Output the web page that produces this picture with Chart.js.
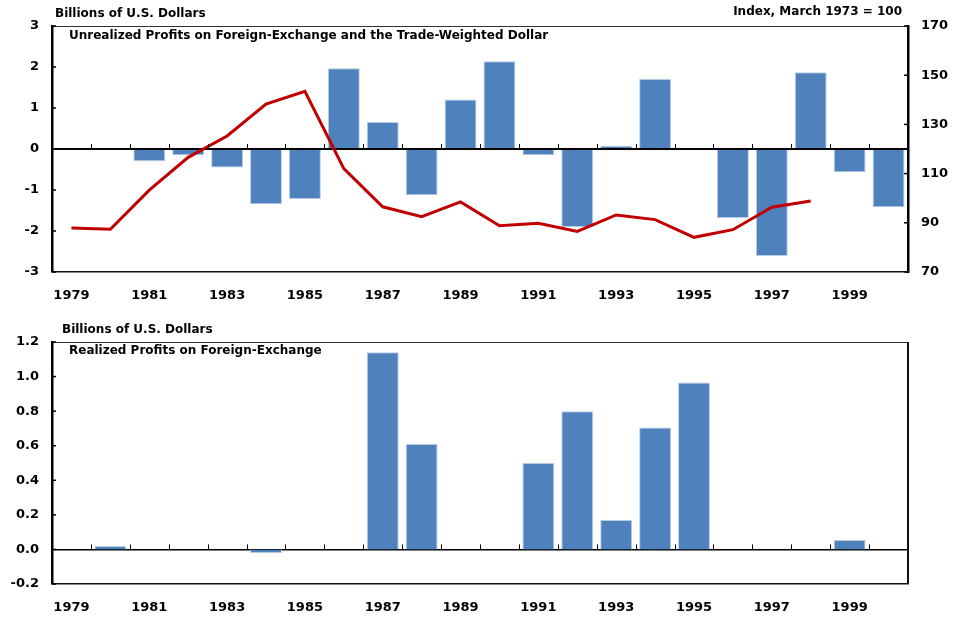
<!DOCTYPE html>
<html>
<head>
<meta charset="utf-8">
<script src="https://cdn.jsdelivr.net/npm/chart.js@4.4.0/dist/chart.umd.min.js"></script>
<style>
  html, body { margin: 0; padding: 0; background: #fff; }
  #wrap { position: relative; width: 955px; height: 618px; }
  #topBox { position: absolute; left: 0; top: 0; width: 955px; height: 310px; }
  #botBox { position: absolute; left: 0; top: 310px; width: 955px; height: 308px; }
</style>
</head>
<body>
<div id="wrap">
  <div id="topBox"><canvas id="topChart" width="955" height="310"></canvas></div>
  <div id="botBox"><canvas id="botChart" width="955" height="308"></canvas></div>
</div>
<script>
// years on the category axis
const years = ['1979', '1980', '1981', '1982', '1983', '1984', '1985', '1986', '1987', '1988', '1989',
               '1990', '1991', '1992', '1993', '1994', '1995', '1996', '1997', '1998', '1999', '2000'];

// unrealized profits, billions of U.S. dollars
const unrealized = [0, 0, -0.30, -0.15, -0.45, -1.35, -1.22, 1.97, 0.66, -1.13, 1.21,
                    2.14, -0.15, -1.90, 0.08, 1.71, 0.03, -1.68, -2.61, 1.87, -0.57, -1.42];

// trade-weighted dollar, index March 1973 = 100
const dollarIndex = [87.9, 87.4, 103.3, 116.6, 125.3, 138.3, 143.4, 112.0, 96.5, 92.5, 98.5,
                     88.8, 89.8, 86.5, 93.2, 91.3, 84.1, 87.2, 96.3, 98.9, null, null];

// realized profits, billions of U.S. dollars
const realized = [0, 0.02, 0, 0, 0, -0.02, 0, 0, 1.14, 0.61, 0,
                  0, 0.50, 0.80, 0.17, 0.705, 0.965, 0, 0, 0, 0.055, 0];

const FONT = 'DejaVu Sans';
const barBlue = '#4f81bd';
const lineRed = '#c00000';

const isZero = v => Math.abs(v) < 1e-9;

// frame, tick marks and captions drawn on top of the chart
const framePlugin = {
    id: 'frame',
    afterDraw(chart, args, opts) {
        const ctx = chart.ctx;
        const area = chart.chartArea;
        const x = chart.scales.x;
        const y = chart.scales.y;
        const zero = y.getPixelForValue(0);
        ctx.save();

        // top border of the plot box
        ctx.strokeStyle = '#333';
        ctx.lineWidth = 1;
        ctx.beginPath();
        ctx.moveTo(area.left, area.top + 0.5);
        ctx.lineTo(area.right, area.top + 0.5);
        ctx.stroke();

        if (opts.rightBorder) {
            ctx.lineWidth = 2;
            ctx.strokeStyle = '#111';
            ctx.beginPath();
            ctx.moveTo(area.right, area.top);
            ctx.lineTo(area.right, area.bottom);
            ctx.stroke();
        }

        // small ticks between categories, sitting on the zero line
        ctx.strokeStyle = '#000';
        ctx.lineWidth = 1;
        const n = x.getLabels().length;
        const step = (area.right - area.left) / n;
        for (let i = 1; i <= n; i++) {
            const px = Math.round(area.left + i * step) + 0.5;
            ctx.beginPath();
            ctx.moveTo(px, zero);
            ctx.lineTo(px, zero - 5);
            ctx.stroke();
        }

        // inward ticks on the value axes
        ctx.lineWidth = 1.5;
        y.ticks.forEach(t => {
            const py = y.getPixelForValue(t.value);
            ctx.beginPath();
            ctx.moveTo(area.left, py);
            ctx.lineTo(area.left + 4, py);
            ctx.stroke();
        });
        if (chart.scales.y1) {
            const y1 = chart.scales.y1;
            y1.ticks.forEach(t => {
                const py = y1.getPixelForValue(t.value);
                ctx.beginPath();
                ctx.moveTo(area.right, py);
                ctx.lineTo(area.right - 4, py);
                ctx.stroke();
            });
        }

        // captions
        ctx.fillStyle = '#000';
        ctx.textBaseline = 'middle';
        ctx.font = 'bold 12px "' + FONT + '"';
        (opts.captions || []).forEach(c => {
            ctx.textAlign = c.align || 'left';
            ctx.fillText(c.text, c.x, c.y);
        });
        ctx.restore();
    }
};

function yearTicks() {
    return {
        autoSkip: false,
        maxRotation: 0,
        padding: 16,
        color: '#000',
        font: { family: FONT, size: 13, weight: 'bold' },
        callback: function(value, index) {
            return index % 2 === 0 ? this.getLabelForValue(value) : '';
        }
    };
}

function zeroGrid(width) {
    return {
        drawTicks: false,
        lineWidth: ctx => (ctx.tick && isZero(ctx.tick.value) ? width : 0),
        color: ctx => (ctx.tick && isZero(ctx.tick.value) ? '#000' : 'rgba(0,0,0,0)')
    };
}

// top panel: unrealized profits and the trade-weighted dollar
new Chart(document.getElementById('topChart').getContext('2d'), {
    type: 'bar',
    data: {
        labels: years,
        datasets: [
            {
                type: 'line',
                label: 'Trade-Weighted Dollar',
                data: dollarIndex,
                yAxisID: 'y1',
                borderColor: lineRed,
                borderWidth: 3,
                pointRadius: 0,
                tension: 0,
                spanGaps: false,
                order: 1
            },
            {
                label: 'Unrealized Profits',
                data: unrealized,
                yAxisID: 'y',
                backgroundColor: barBlue,
                borderColor: '#b8cce4',
                borderWidth: 1,
                barPercentage: 0.82,
                categoryPercentage: 1.0,
                order: 2
            }
        ]
    },
    options: {
        responsive: false,
        animation: false,
        layout: { padding: { top: 26, left: 0, right: 0, bottom: 0 } },
        plugins: {
            legend: { display: false },
            tooltip: { enabled: false },
            frame: {
                captions: [
                    { text: 'Billions of U.S. Dollars', x: 55, y: 14 },
                    { text: 'Unrealized Profits on Foreign-Exchange and the Trade-Weighted Dollar', x: 69, y: 36 },
                    { text: 'Index, March 1973 = 100', x: 902, y: 12, align: 'right' }
                ]
            }
        },
        scales: {
            x: {
                grid: { display: false, drawTicks: false },
                border: { color: '#111', width: 1.5 },
                ticks: yearTicks(),
                afterFit: s => { s.height = 38; }
            },
            y: {
                position: 'left',
                min: -3,
                max: 3,
                ticks: {
                    stepSize: 1,
                    padding: 13,
                    color: '#000',
                    font: { family: FONT, size: 13, weight: 'bold' }
                },
                grid: zeroGrid(2),
                border: { color: '#000', width: 2.5 },
                afterFit: s => { s.width = 52; }
            },
            y1: {
                position: 'right',
                min: 70,
                max: 170,
                ticks: {
                    stepSize: 20,
                    padding: 13,
                    color: '#000',
                    font: { family: FONT, size: 13, weight: 'bold' }
                },
                grid: { display: false, drawTicks: false },
                border: { color: '#000', width: 2.5 },
                afterFit: s => { s.width = 47; }
            }
        }
    },
    plugins: [framePlugin]
});

// bottom panel: realized profits
new Chart(document.getElementById('botChart').getContext('2d'), {
    type: 'bar',
    data: {
        labels: years,
        datasets: [{
            label: 'Realized Profits',
            data: realized,
            backgroundColor: barBlue,
            borderColor: '#b8cce4',
            borderWidth: 1,
            barPercentage: 0.82,
            categoryPercentage: 1.0
        }]
    },
    options: {
        responsive: false,
        animation: false,
        layout: { padding: { top: 32, left: 0, right: 47, bottom: 0 } },
        plugins: {
            legend: { display: false },
            tooltip: { enabled: false },
            frame: {
                rightBorder: true,
                captions: [
                    { text: 'Billions of U.S. Dollars', x: 62, y: 19.5 },
                    { text: 'Realized Profits on Foreign-Exchange', x: 69, y: 41 }
                ]
            }
        },
        scales: {
            x: {
                grid: { display: false, drawTicks: false },
                border: { color: '#111', width: 1.5 },
                ticks: yearTicks(),
                afterFit: s => { s.height = 34; }
            },
            y: {
                min: -0.2,
                max: 1.2,
                ticks: {
                    stepSize: 0.2,
                    padding: 13,
                    color: '#000',
                    font: { family: FONT, size: 13, weight: 'bold' },
                    callback: v => (isZero(v) ? 0 : v).toFixed(1)
                },
                grid: zeroGrid(1.5),
                border: { color: '#000', width: 2.5 },
                afterFit: s => { s.width = 52; }
            }
        }
    },
    plugins: [framePlugin]
});
</script>
</body>
</html>
